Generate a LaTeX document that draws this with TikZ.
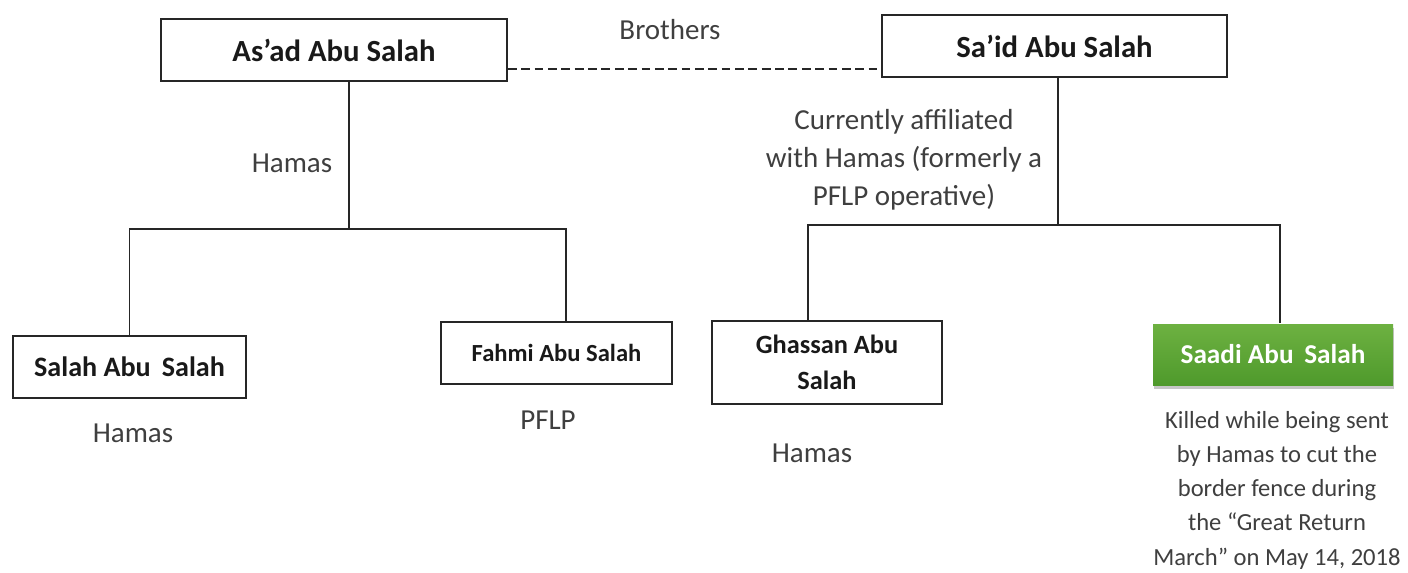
\documentclass[tikz,border=0pt]{standalone}
\usepackage{fontspec}
\setmainfont{Carlito}
\usetikzlibrary{shadows}
\definecolor{textgrey}{HTML}{3F3F3F}
\definecolor{greentop}{HTML}{6DB141}
\definecolor{greenbottom}{HTML}{4F9A2C}
\begin{document}
\begin{tikzpicture}[line width = 1.1pt,
    person/.style = {shape = rectangle, draw = black!85, line width = 1.1pt, minimum height = 1.24cm, align = center, text = black!90, font = \bfseries\fontsize{17.5}{21}\selectfont},
    small person/.style = {person, font = \bfseries\fontsize{15.5}{21}\selectfont},
    note/.style = {text = textgrey, align = center, font = \fontsize{16.5}{21.6}\selectfont},
    link/.style = {draw = black!85, line width = 1.1pt},
    brotherline/.style = {link, line width = 1.3pt, dash pattern = on 5pt off 2.6pt}]
    \useasboundingbox (0,0) rectangle (28.16,-11.46);
    \node[person, minimum width = 6.92cm] (AS) at (6.68,-1.0) {As’ad Abu Salah};
    \node[person, minimum width = 6.9cm] (SA) at (21.09,-0.92) {Sa’id Abu Salah};
    \node[small person, minimum width = 4.66cm, font = \bfseries\fontsize{16}{21}\selectfont] (SL) at (2.59,-7.34) {Salah Abu\, Salah};
    \node[small person, minimum width = 4.62cm, font = \bfseries\fontsize{14}{21}\selectfont] (FA) at (11.13,-7.06) {Fahmi Abu Salah};
    \node[small person, minimum width = 4.6cm, minimum height = 1.66cm, font = \bfseries\fontsize{15}{20.5}\selectfont] (GH) at (16.54,-7.25) {Ghassan Abu\\Salah};
    \node[shape = rectangle, minimum width = 4.8cm, minimum height = 1.22cm, top color = greentop, bottom color = greenbottom, text = white, drop shadow = {opacity = 0.45, shadow xshift = 0.02cm, shadow yshift = -0.07cm}, font = \bfseries\fontsize{15.5}{21}\selectfont] (SD) at (25.46,-7.09) {Saadi Abu\, Salah};
    \node[note] (BR) at (13.4,-0.6) {Brothers};
    \node[note] (H1) at (5.84,-3.26) {Hamas};
    \node[note] (CA) at (18.08,-3.2) {Currently affiliated\\with Hamas (formerly a\\PFLP operative)};
    \node[note] (H2) at (2.66,-8.66) {Hamas};
    \node[note] (PF) at (10.96,-8.4) {PFLP};
    \node[note] (H3) at (16.24,-9.06) {Hamas};
    \node[note, font = \fontsize{14}{19.5}\selectfont] (KI) at (25.54,-9.8) {Killed while being sent\\by Hamas to cut the\\border fence during\\the “Great Return\\March” on May 14, 2018};
    \coordinate (J1) at (6.98,-4.58);
    \coordinate (J2) at (21.16,-4.5);
    \draw[brotherline] ([yshift = -0.38cm]AS.east) -- ([yshift = -0.38cm]AS.east -| SA.west);
    \draw[link] (AS.south -| J1) -- (J1);
    \draw[link] (SL.north) |- (J1) -| ([xshift = 0.19cm]FA.north);
    \draw[link] (SA.south -| J2) -- (J2);
    \draw[link] ([xshift = -0.38cm]GH.north) |- (J2) -| ([xshift = 0.14cm]SD.north);
\end{tikzpicture}
\end{document}
